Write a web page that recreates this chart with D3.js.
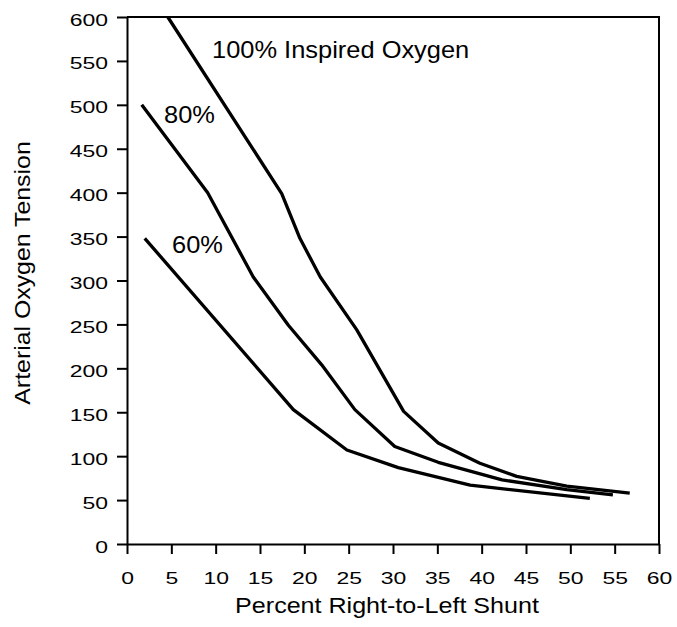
<!DOCTYPE html>
<html>
<head>
<meta charset="utf-8">
<script src="https://cdn.jsdelivr.net/npm/d3@7"></script>
<style>
  html, body { margin: 0; padding: 0; background: #fff; }
  text { font-family: "Liberation Sans", Arial, Helvetica, sans-serif; fill: #000; }
</style>
</head>
<body>
<div id="chart"></div>
<script>
// shunt % vs arterial O2 tension
let o2_100 = [[4.6, 600], [17.45, 399], [19.5, 348], [21.8, 304], [25.9, 244], [31.2, 151],
              [35.1, 115], [39.8, 92], [43.95, 77], [49.6, 66], [56.7, 58]];
let o2_80 = [[1.66, 500], [9.1, 400], [14.24, 304], [18.2, 249], [21.96, 204], [25.7, 153],
             [30.2, 111], [35.1, 93], [42.3, 73], [49.6, 62], [54.8, 56]];
let o2_60 = [[2.0, 348], [18.76, 153], [24.8, 107], [30.6, 87], [38.7, 67], [52.2, 52]];

let series = [o2_100, o2_80, o2_60];
let series_labels = ['100% Inspired Oxygen', '80%', '60%'];
let x_ticks = [0, 5, 10, 15, 20, 25, 30, 35, 40, 45, 50, 55, 60];
let y_ticks = [0, 50, 100, 150, 200, 250, 300, 350, 400, 450, 500, 550, 600];

function draw_chart(containerid) {
    let width = 677, height = 627;
    let margin = ({ top: 17, right: 18, bottom: 83, left: 127 });

    let svg = d3.select('#' + containerid).append('svg')
        .attr('width', width)
        .attr('height', height);

    let x = d3.scaleLinear([0, 60], [margin.left, width - margin.right]);
    let y = d3.scaleLinear([0, 600], [height - margin.bottom, margin.top]);

    // 上边框和右边框
    svg.append('path')
        .attr('d', `M${x(0)},${y(600)}H${x(60)}V${y(0)}`)
        .attr('fill', 'none')
        .attr('stroke', '#000')
        .attr('stroke-width', 2);

    let gx = svg.append('g')
        .attr('transform', `translate(0,${y(0)})`)
        .call(d3.axisBottom(x).tickValues(x_ticks).tickSize(10).tickSizeOuter(0));
    gx.selectAll('text')
        .attr('y', null).attr('dy', null)
        .attr('font-size', 17)
        .attr('transform', 'translate(0,39.5) scale(1.35,1)');

    let gy = svg.append('g')
        .attr('transform', `translate(${x(0)},0)`)
        .call(d3.axisLeft(y).tickValues(y_ticks).tickSize(10).tickSizeOuter(0));
    gy.selectAll('text')
        .attr('x', null).attr('dy', null)
        .attr('font-size', 17)
        .attr('transform', 'translate(-19,8) scale(1.35,1)');

    svg.selectAll('.domain, .tick line')
        .attr('stroke', '#000')
        .attr('stroke-width', 2);

    // 三条曲线
    let line = d3.line().x(d => x(d[0])).y(d => y(d[1]));
    svg.append('g').selectAll('path')
        .data(series)
        .join('path')
        .attr('d', line)
        .attr('fill', 'none')
        .attr('stroke', '#000')
        .attr('stroke-width', 3.3)
        .attr('stroke-linejoin', 'round');

    // 曲线标注
    let label_pos = [[212, 57.5], [164, 123], [172, 253]];
    svg.append('g').selectAll('text')
        .data(series_labels)
        .join('text')
        .attr('font-size', 24)
        .attr('transform', (d, i) => `translate(${label_pos[i][0]},${label_pos[i][1]}) scale(1.06,1)`)
        .text(d => d);

    // 坐标轴标题
    svg.append('text')
        .attr('font-size', 22)
        .attr('text-anchor', 'middle')
        .attr('transform', 'translate(387,613) scale(1.14,1)')
        .text('Percent Right-to-Left Shunt');

    svg.append('text')
        .attr('font-size', 22)
        .attr('text-anchor', 'middle')
        .attr('transform', 'translate(29.5,273) rotate(-90) scale(1.13,1)')
        .text('Arterial Oxygen Tension');
}

draw_chart('chart');
</script>
</body>
</html>
